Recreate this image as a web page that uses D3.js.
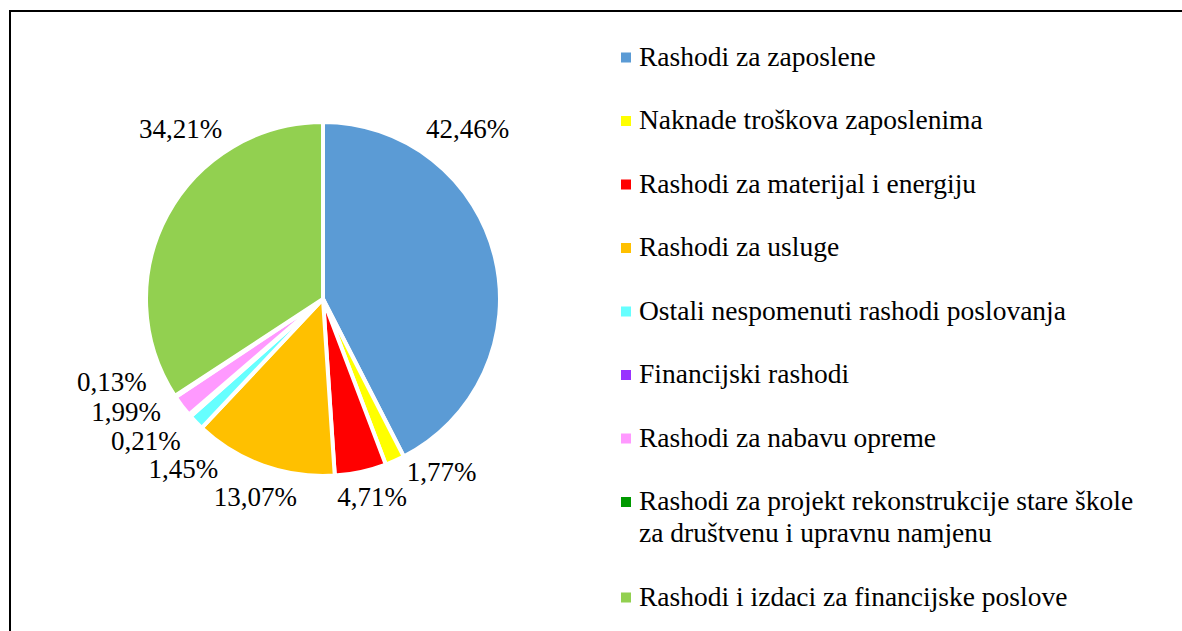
<!DOCTYPE html>
<html>
<head>
<meta charset="utf-8">
<script src="https://cdn.jsdelivr.net/npm/d3@7"></script>
<style>
  html, body { margin: 0; padding: 0; background: #fff; }
  svg { display: block; }
  svg text { font-family: 'Liberation Serif', 'DejaVu Serif', serif; }
</style>
</head>
<body>
<div id="chart"></div>
<script>
// kategorije i udjeli (%)
var categories = [
    "Rashodi za zaposlene",
    "Naknade troškova zaposlenima",
    "Rashodi za materijal i energiju",
    "Rashodi za usluge",
    "Ostali nespomenuti rashodi poslovanja",
    "Financijski rashodi",
    "Rashodi za nabavu opreme",
    "Rashodi za projekt rekonstrukcije stare škole za društvenu i upravnu namjenu",
    "Rashodi i izdaci za financijske poslove"
];
var shares = [42.46, 1.77, 4.71, 13.07, 1.45, 0.21, 1.99, 0.13, 34.21];
var colors = ["#5B9BD5", "#FFFF00", "#FF0000", "#FFC000", "#66FFFF", "#9933FF", "#FF99FF", "#009900", "#92D050"];

// položaj natpisa (kut u stupnjevima, udaljenost od središta) - kao u Excelu
var labelAngle = [40.4, 145.6, 166.1, 198.9, 219.4, 231.3, 240.2, 248.5, 320.1];
var labelRadius = [223, 210, 204, 209, 220, 227, 227, 227, 222];

document.addEventListener('DOMContentLoaded', function () {
    var width = 1182, height = 631;
    var cx = 323, cy = 299, radius = 177;

    var svg = d3.select("#chart")
        .append("svg")
        .attr("width", width)
        .attr("height", height);

    // okvir
    svg.append("rect")
        .attr("x", 10).attr("y", 11)
        .attr("width", width + 20).attr("height", height + 20)
        .attr("fill", "none")
        .attr("stroke", "#000")
        .attr("stroke-width", 2);

    var data = categories.map(function (c, i) {
        return { name: c, value: shares[i], color: colors[i], idx: i };
    });

    var pie = d3.pie()
        .sort(null)
        .value(function (d) { return d.value; });

    var arc = d3.arc()
        .innerRadius(0)
        .outerRadius(radius);

    var g = svg.append("g")
        .attr("transform", "translate(" + cx + "," + cy + ")");

    g.selectAll("path")
        .data(pie(data))
        .enter().append("path")
        .attr("d", arc)
        .attr("fill", function (d) { return d.data.color; })
        .attr("stroke", "#fff")
        .attr("stroke-width", 4)
        .attr("stroke-linejoin", "round");

    var fmt = function (v) { return v.toFixed(2).replace(".", ",") + "%"; };

    g.selectAll("text.lbl")
        .data(pie(data))
        .enter().append("text")
        .attr("class", "lbl")
        .attr("transform", function (d, i) {
            var a = labelAngle[i] * Math.PI / 180;
            var p = d3.arc().innerRadius(labelRadius[i]).outerRadius(labelRadius[i])
                .centroid({ startAngle: a, endAngle: a });
            return "translate(" + p[0] + "," + (p[1] + 9) + ")";
        })
        .attr("text-anchor", "middle")
        .attr("font-family", "Liberation Serif")
        .attr("font-size", 27)
        .attr("fill", "#000")
        .text(function (d) { return fmt(d.data.value); });

    // legenda
    var legend = svg.append("g").attr("transform", "translate(621,0)");
    var y = 57.5;
    data.forEach(function (d) {
        var row = legend.append("g");
        row.append("rect")
            .attr("x", 0).attr("y", y - 5)
            .attr("width", 10).attr("height", 10)
            .attr("fill", d.color);
        var t = row.append("text")
            .attr("x", 18)
            .attr("y", y + 8)
            .attr("font-family", "Liberation Serif")
            .attr("font-size", 27.5)
            .attr("fill", "#000");
        var lines = wrap(t, d.name, 515);
        y += 63.5 + (lines - 1) * 32;
    });

    function wrap(textSel, str, maxW) {
        var words = str.split(" ");
        var line = [];
        var n = 1;
        var tspan = textSel.append("tspan").attr("x", 18);
        words.forEach(function (w) {
            line.push(w);
            tspan.text(line.join(" "));
            if (tspan.node().getComputedTextLength() > maxW && line.length > 1) {
                line.pop();
                tspan.text(line.join(" "));
                line = [w];
                tspan = textSel.append("tspan").attr("x", 18).attr("dy", 32).text(w);
                n++;
            }
        });
        return n;
    }
});
</script>
</body>
</html>
